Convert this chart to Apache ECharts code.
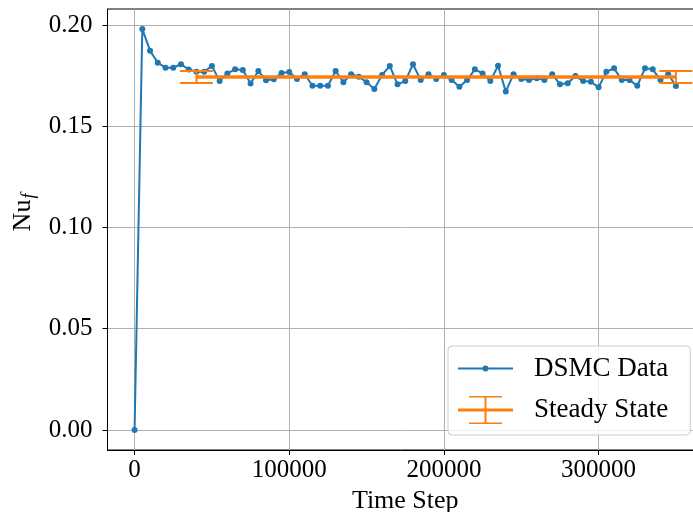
<!DOCTYPE html>
<html><head><meta charset="utf-8">
<script src="https://cdn.jsdelivr.net/npm/echarts@6/dist/echarts.min.js"></script>
<style>html,body{margin:0;padding:0;background:#fff}#c{width:693px;height:512px}</style>
</head><body><div id="c"></div>
<script>
const timeSteps = [0,5000,10000,15000,20000,25000,30000,35000,40000,45000,50000,55000,60000,65000,70000,75000,80000,85000,90000,95000,100000,105000,110000,115000,120000,125000,130000,135000,140000,145000,150000,155000,160000,165000,170000,175000,180000,185000,190000,195000,200000,205000,210000,215000,220000,225000,230000,235000,240000,245000,250000,255000,260000,265000,270000,275000,280000,285000,290000,295000,300000,305000,310000,315000,320000,325000,330000,335000,340000,345000,350000];
const nuValues = [0,0.1980,0.1873,0.1814,0.1789,0.1789,0.1806,0.1780,0.1769,0.1769,0.1798,0.1723,0.1761,0.1781,0.1778,0.1711,0.1773,0.1727,0.1732,0.1763,0.1768,0.1733,0.1757,0.1700,0.1700,0.1700,0.1773,0.1717,0.1757,0.1745,0.1717,0.1684,0.1753,0.1798,0.1707,0.1723,0.1806,0.1728,0.1757,0.1733,0.1753,0.1728,0.1695,0.1728,0.1781,0.1761,0.1723,0.1799,0.1671,0.1757,0.1733,0.1728,0.1737,0.1728,0.1757,0.1707,0.1712,0.1748,0.1723,0.1720,0.1692,0.1769,0.1786,0.1728,0.1728,0.1700,0.1786,0.1781,0.1728,0.1757,0.1699];
const steadyX = [40000, 350000];
const steadyMean = [0.1743, 0.1743];
const steadyErr = [0.0030, 0.0030];
const xTicks = [0, 100000, 200000, 300000];
const yTicks = [0, 0.05, 0.10, 0.15, 0.20];
const seriesNames = ['DSMC Data', 'Steady State'];

const FONT = 'Liberation Serif';
const TXT = '#000';
const BLUE = '#1f77b4', ORANGE = '#ff7f0e';

const dsmcData = timeSteps.map((t, i) => [t, nuValues[i]]);
const steadyLine = steadyX.map((t, i) => [t, steadyMean[i]]);
const steadyErrData = steadyX.map((t, i) => [t, steadyMean[i], steadyErr[i]]);

const iconDSMC = 'path://M0,13H25V15H0Z M30,13H55V15H30Z M24.5,14A3,3 0 1,1 30.5,14A3,3 0 1,1 24.5,14Z';
const iconSteady = 'path://M0,12.5H55V15.5H0Z M26.5,0H28.5V28H26.5Z M11,0H44V1.6H11Z M11,26.4H44V28H11Z';

const chart = echarts.init(document.getElementById('c'), null, {renderer: 'canvas'});
chart.setOption({
  animation: false,
  backgroundColor: '#fff',
  grid: {left: 107.5, right: -10, top: 9, bottom: 62, outerBoundsMode: 'none', containLabel: false,
         show: true, borderColor: '#000', borderWidth: 1, backgroundColor: 'transparent'},
  xAxis: {
    type: 'value', min: -17500, max: 367500,
    name: 'Time Step', nameLocation: 'middle', nameGap: 30,
    nameTextStyle: {fontFamily: FONT, fontSize: 26, color: TXT},
    axisLine: {show: true, onZero: false, lineStyle: {color: '#000', width: 1}},
    axisTick: {show: true, length: 5, inside: false, customValues: xTicks, lineStyle: {color: '#000'}},
    axisLabel: {customValues: xTicks, fontFamily: FONT, fontSize: 25, color: TXT, margin: 8, formatter: v => String(v)},
    splitLine: {show: true, lineStyle: {color: '#b0b0b0', width: 1}}
  },
  yAxis: {
    type: 'value', min: -0.0099, max: 0.2079,
    name: '{a|Nu}{b|f}', nameLocation: 'middle', nameGap: 66,
    nameTextStyle: {color: TXT, padding: [0, 0, 0, 34], rich: {
      a: {fontFamily: FONT, fontSize: 26, color: TXT, verticalAlign: 'top', lineHeight: 26},
      b: {fontFamily: FONT, fontSize: 18, fontStyle: 'italic', color: TXT, verticalAlign: 'top', padding: [10, 0, 0, 1]}
    }},
    axisLine: {show: true, onZero: false, lineStyle: {color: '#000', width: 1}},
    axisTick: {show: true, length: 5, inside: false, customValues: yTicks, lineStyle: {color: '#000'}},
    axisLabel: {customValues: yTicks, fontFamily: FONT, fontSize: 25, color: TXT, margin: 15, formatter: v => v.toFixed(2)},
    splitLine: {show: true, lineStyle: {color: '#b0b0b0', width: 1}}
  },
  legend: {
    orient: 'vertical', left: 448, top: 346,
    padding: [9, 22, 11, 10], itemGap: 14,
    itemWidth: 55, itemHeight: 28,
    backgroundColor: 'rgba(255,255,255,0.8)', borderColor: '#cccccc', borderWidth: 1, borderRadius: 4,
    itemStyle: {borderWidth: 0},
    textStyle: {fontFamily: FONT, fontSize: 27, color: TXT, padding: [0, 0, 0, 16]},
    data: [{name: seriesNames[0], icon: iconDSMC}, {name: seriesNames[1], icon: iconSteady}]
  },
  series: [
    {
      name: seriesNames[0], type: 'line', data: dsmcData, z: 2,
      symbol: 'circle', symbolSize: 6, showSymbol: true,
      lineStyle: {color: BLUE, width: 2}, itemStyle: {color: BLUE}
    },
    {
      name: seriesNames[1], type: 'line', data: steadyLine, z: 3,
      symbol: 'none', lineStyle: {color: ORANGE, width: 3.5}, itemStyle: {color: ORANGE}
    },
    {
      name: seriesNames[1], type: 'custom', data: steadyErrData, z: 3,
      encode: {x: 0, y: 1}, itemStyle: {color: ORANGE},
      renderItem: function (params, api) {
        const x = api.value(0), m = api.value(1), e = api.value(2);
        const top = api.coord([x, m + e]), bot = api.coord([x, m - e]);
        const hw = 16.5;
        const st = {stroke: ORANGE, lineWidth: 2, fill: null};
        return {type: 'group', children: [
          {type: 'line', shape: {x1: top[0], y1: top[1], x2: bot[0], y2: bot[1]}, style: st},
          {type: 'line', shape: {x1: top[0] - hw, y1: top[1], x2: top[0] + hw, y2: top[1]}, style: st},
          {type: 'line', shape: {x1: bot[0] - hw, y1: bot[1], x2: bot[0] + hw, y2: bot[1]}, style: st}
        ]};
      }
    }
  ]
});
</script>
</body></html>
